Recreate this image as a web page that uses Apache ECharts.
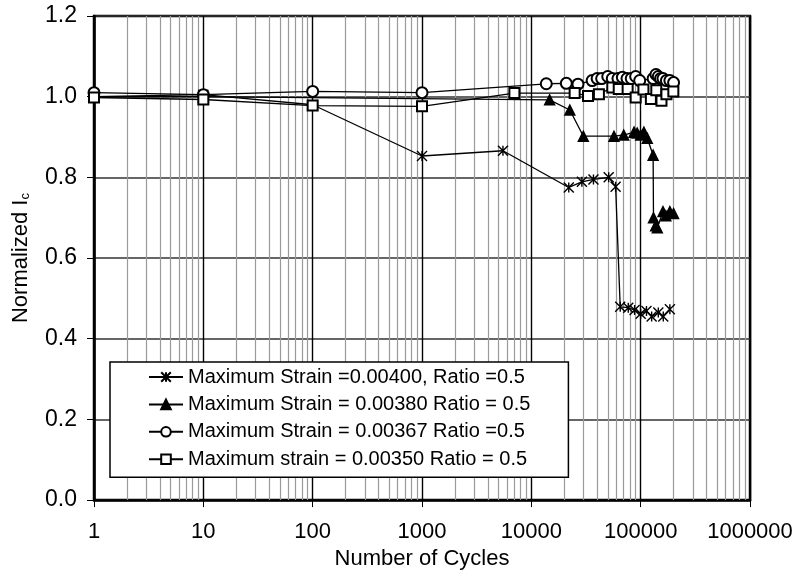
<!DOCTYPE html>
<html>
<head>
<meta charset="utf-8">
<script src="https://cdn.jsdelivr.net/npm/echarts@6/dist/echarts.min.js"></script>
<style>
html, body { margin: 0; padding: 0; background: #fff; }
#main { width: 798px; height: 575px; }
</style>
</head>
<body>
<div id="main"></div>
<script>
// legend names
var seriesNames = [
	'Maximum Strain =0.00400, Ratio =0.5',
	'Maximum Strain = 0.00380 Ratio = 0.5',
	'Maximum Strain = 0.00367 Ratio =0.5',
	'Maximum strain = 0.00350 Ratio = 0.5'
];

// strain 0.00400 (asterisk)
var cycles400 = [1, 10, 100, 1000, 5500, 22000, 29000, 37000, 51000, 59000, 65000, 77000, 88000, 100000, 113000, 126000, 145000, 161000, 185000];
var ic400 = [1.0, 1.005, 0.98, 0.853, 0.866, 0.775, 0.789, 0.795, 0.800, 0.777, 0.479, 0.477, 0.471, 0.462, 0.469, 0.455, 0.465, 0.455, 0.473];

// strain 0.00380 (filled triangle)
var cycles380 = [1, 10, 14700, 22500, 29900, 57000, 70000, 87000, 93000, 100000, 107000, 115000, 130000, 131000, 137000, 142000, 160000, 170000, 185000, 200000];
var ic380 = [1.0, 1.0, 0.992, 0.967, 0.902, 0.902, 0.905, 0.912, 0.91, 0.905, 0.912, 0.897, 0.855, 0.70, 0.68, 0.675, 0.715, 0.705, 0.715, 0.71];

// strain 0.00367 (open circle)
var cycles367 = [1, 10, 100, 1000, 13700, 20900, 26700, 36000, 40000, 44000, 50000, 55000, 62000, 68000, 75000, 82000, 90000, 98000, 130000, 138000, 145000, 152000, 160000, 172000, 185000, 200000];
var ic367 = [1.01, 1.005, 1.013, 1.01, 1.032, 1.033, 1.031, 1.04, 1.045, 1.045, 1.05, 1.045, 1.045, 1.048, 1.045, 1.045, 1.05, 1.04, 1.045, 1.055, 1.05, 1.045, 1.045, 1.04, 1.04, 1.035];

// strain 0.00350 (open square)
var cycles350 = [1, 10, 100, 1000, 7000, 24900, 33000, 41500, 55000, 63000, 76000, 90000, 106000, 124000, 139000, 155000, 172000, 199000];
var ic350 = [0.998, 0.993, 0.978, 0.976, 1.009, 1.009, 1.002, 1.006, 1.023, 1.019, 1.019, 0.998, 1.018, 0.994, 1.016, 0.99, 1.006, 1.013];

// axis ranges
var xMin = 1, xMax = 1000000;
var yMin = 0, yMax = 1.2, yStep = 0.2;

function pairs(xs, ys) {
	var out = [];
	for (var i = 0; i < xs.length; i++) {
		out.push([xs[i], ys[i]]);
	}
	return out;
}

// minor log gridlines at 2..9 of each decade
var minorLines = [];
for (var d = xMin; d < xMax; d *= 10) {
	for (var k = 2; k <= 9; k++) {
		minorLines.push({ xAxis: d * k });
	}
}

var fontName = '"Liberation Sans", Arial, sans-serif';
var asterisk = 'path://M0 0L10 10M10 0L0 10M5 0L5 10';

var lineSeries = function (name, data, symbol, size) {
	return {
		name: name,
		type: 'line',
		data: data,
		symbol: symbol,
		symbolSize: size,
		clip: false,
		z: 3,
		lineStyle: {
			color: '#000',
			width: 1.3
		},
		itemStyle: {
			color: '#000',
			borderColor: '#000',
			borderWidth: 1.4
		},
		emphasis: { disabled: true }
	};
};

var myChart = echarts.init(document.getElementById('main'));
var option = {
	backgroundColor: '#fff',
	animation: false,
	textStyle: {
		fontFamily: fontName
	},
	grid: {
		left: 94,
		right: 48,
		top: 16,
		bottom: 70,
		show: true,
		borderColor: '#000',
		borderWidth: 2.5
	},
	legend: {
		data: seriesNames,
		orient: 'vertical',
		left: 110,
		top: 362,
		z: 10,
		padding: [5, 38, 8, 38],
		itemWidth: 34,
		itemHeight: 12,
		itemGap: 7.4,
		backgroundColor: '#fff',
		borderColor: '#000',
		borderWidth: 1.5,
		borderRadius: 0,
		textStyle: {
			fontSize: 20,
			color: '#000',
			fontFamily: fontName
		}
	},
	xAxis: {
		type: 'log',
		logBase: 10,
		min: xMin,
		max: xMax,
		splitNumber: 6,
		name: 'Number of Cycles',
		nameLocation: 'middle',
		nameGap: 45,
		nameTextStyle: {
			fontSize: 22,
			color: '#000'
		},
		axisLine: {
			lineStyle: { color: '#000', width: 2.5 }
		},
		axisTick: {
			show: true,
			length: 7,
			lineStyle: { color: '#000', width: 1 }
		},
		axisLabel: {
			fontSize: 22,
			color: '#000',
			margin: 21,
			formatter: function (v) {
				return String(Math.round(v));
			}
		},
		splitLine: {
			show: true,
			lineStyle: { color: '#000', width: 1.4 }
		}
	},
	yAxis: {
		type: 'value',
		min: yMin,
		max: yMax,
		interval: yStep,
		name: '{a|Normalized I}{b|c}',
		nameLocation: 'middle',
		nameGap: 62,
		nameRotate: 90,
		nameTextStyle: {
			color: '#000',
			rich: {
				a: { fontSize: 22, lineHeight: 26, color: '#000', verticalAlign: 'bottom' },
				b: { fontSize: 13, lineHeight: 13, color: '#000', verticalAlign: 'bottom' }
			}
		},
		axisLine: {
			lineStyle: { color: '#000', width: 2.5 }
		},
		axisTick: {
			show: true,
			length: 7,
			lineStyle: { color: '#000', width: 1 }
		},
		axisLabel: {
			fontSize: 23,
			color: '#000',
			margin: 17,
			formatter: function (v) {
				return v.toFixed(1);
			}
		},
		splitLine: {
			show: true,
			lineStyle: { color: '#333', width: 1.5 }
		}
	},
	series: [
		{
			name: 'minor',
			type: 'line',
			data: [],
			z: 1,
			silent: true,
			markLine: {
				silent: true,
				z: 1,
				symbol: ['none', 'none'],
				animation: false,
				label: { show: false },
				lineStyle: { color: '#9a9a9a', width: 1.2, type: 'solid' },
				emphasis: { disabled: true },
				data: minorLines
			}
		},
		lineSeries(seriesNames[0], pairs(cycles400, ic400), asterisk, 10),
		lineSeries(seriesNames[1], pairs(cycles380, ic380), 'triangle', 10),
		lineSeries(seriesNames[2], pairs(cycles367, ic367), 'emptyCircle', 11),
		lineSeries(seriesNames[3], pairs(cycles350, ic350), 'emptyRect', 10)
	]
};
myChart.setOption(option);
</script>
</body>
</html>
